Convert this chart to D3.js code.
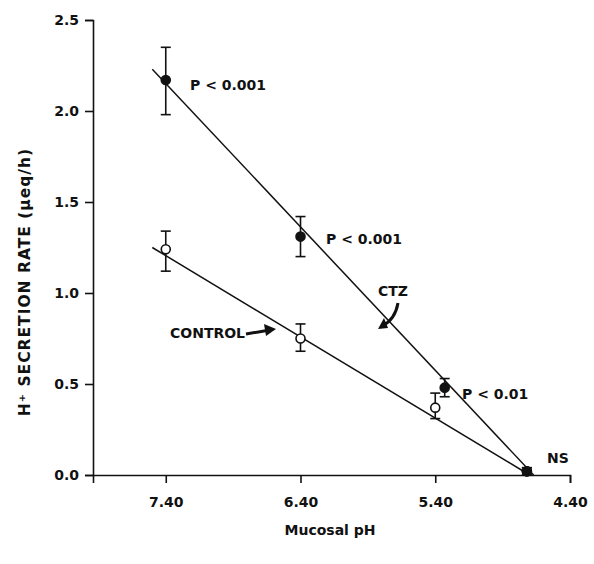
<!DOCTYPE html>
<html><head><meta charset="utf-8">
<script src="https://cdn.jsdelivr.net/npm/d3@7"></script>
<style>body{margin:0;background:#fff}text{font-family:"DejaVu Sans",sans-serif;fill:#111}</style>
</head><body><svg id="c" width="594" height="564"></svg>
<script>
var ph = [7.40, 6.40, 5.33, 4.72];
var ctz = [2.17, 1.31, 0.48, 0.02];
var ctzLo = [1.98, 1.20, 0.43, 0.00];
var ctzHi = [2.35, 1.42, 0.53, 0.04];
var phCtl = [7.40, 6.40, 5.40, 4.72];
var ctl = [1.24, 0.75, 0.37, 0.02];
var ctlLo = [1.12, 0.68, 0.31, 0.00];
var ctlHi = [1.34, 0.83, 0.45, 0.04];
var ctzFit = [[7.50, 2.23], [4.67, 0]];
var ctlFit = [[7.50, 1.25], [4.70, 0]];
var xTicks = [7.40, 6.40, 5.40, 4.40];
var yTicks = [0, 0.5, 1.0, 1.5, 2.0, 2.5];

var svg = d3.select('#c');
var x = d3.scaleLinear().domain([7.94, 4.40]).range([93, 570]);
var y = d3.scaleLinear().domain([0, 2.5]).range([475, 20]);

// axes
svg.append('g').attr('transform', 'translate(0,475)')
  .call(d3.axisBottom(x).tickValues(xTicks).tickFormat(d3.format('.2f')).tickSizeOuter(0).tickSize(8).tickPadding(14))
  .call(function(g) { g.selectAll('text').attr('font-size', 14).attr('font-weight', 'bold'); });
svg.append('g').attr('transform', 'translate(93,0)')
  .call(d3.axisLeft(y).tickValues(yTicks).tickFormat(d3.format('.1f')).tickSizeOuter(0).tickSize(8).tickPadding(6))
  .call(function(g) { g.selectAll('text').attr('font-size', 14).attr('font-weight', 'bold'); });
svg.selectAll('.domain, .tick line').attr('stroke', '#111').attr('stroke-width', 1.6);

svg.append('text').attr('x', 330).attr('y', 535).attr('text-anchor', 'middle')
  .attr('font-size', 14).attr('font-weight', 'bold').text('Mucosal pH');
svg.append('text').attr('transform', 'translate(30,282) rotate(-90)').attr('text-anchor', 'middle')
  .attr('font-size', 15.5).attr('font-weight', 'bold').attr('letter-spacing', 1).text('H\u207A SECRETION RATE (\u03BCeq/h)');

// fit lines
[ctzFit, ctlFit].forEach(function(f) {
  svg.append('line').attr('x1', x(f[0][0])).attr('y1', y(f[0][1]))
    .attr('x2', x(f[1][0])).attr('y2', y(f[1][1])).attr('stroke', '#111').attr('stroke-width', 1.5);
});

function series(px, v, lo, hi, fill) {
  px.forEach(function(p, i) {
    var g = svg.append('g').attr('stroke', '#111').attr('stroke-width', 1.6);
    g.append('line').attr('x1', x(p)).attr('x2', x(p)).attr('y1', y(lo[i])).attr('y2', y(hi[i]));
    [lo[i], hi[i]].forEach(function(e) {
      g.append('line').attr('x1', x(p) - 5).attr('x2', x(p) + 5).attr('y1', y(e)).attr('y2', y(e));
    });
    g.append('circle').attr('cx', x(p)).attr('cy', y(v[i])).attr('r', 4.5).attr('fill', fill);
  });
}
series(phCtl, ctl, ctlLo, ctlHi, '#fff');
series(ph, ctz, ctzLo, ctzHi, '#111');

var labels = [['P < 0.001', 190, 90], ['P < 0.001', 326, 244], ['P < 0.01', 462, 399], ['NS', 547, 463], ['CTZ', 378, 296], ['CONTROL', 170, 338]];
labels.forEach(function(l) {
  svg.append('text').attr('x', l[1]).attr('y', l[2]).attr('font-size', 14).attr('font-weight', 'bold').text(l[0]);
});
// arrows
svg.append('path').attr('d', 'M398,303 Q395,320 382,326').attr('fill', 'none').attr('stroke', '#111').attr('stroke-width', 3);
svg.append('path').attr('d', 'M378,329 L384,318 L388,328 Z').attr('fill', '#111');
svg.append('path').attr('d', 'M246,334 L270,330').attr('stroke', '#111').attr('stroke-width', 3);
svg.append('path').attr('d', 'M276,329 L264,324 L266,336 Z').attr('fill', '#111');
</script></body></html>
